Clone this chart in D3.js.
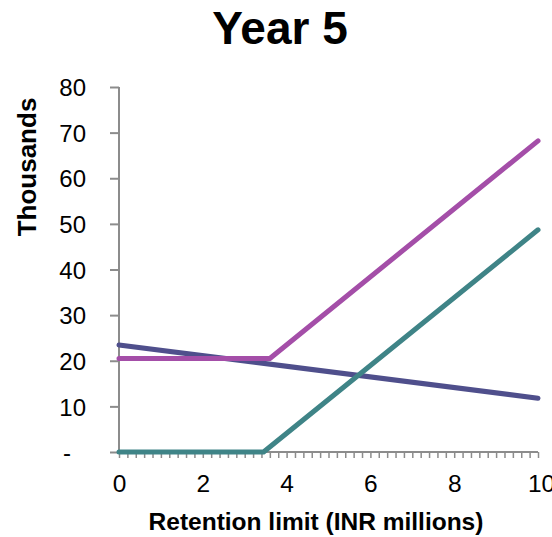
<!DOCTYPE html>
<html>
<head>
<meta charset="utf-8">
<script src="https://cdn.jsdelivr.net/npm/d3@7"></script>
<style>
  html, body { margin: 0; padding: 0; background: #fff; }
  svg { display: block; font-family: "Liberation Sans", Arial, sans-serif; }
</style>
</head>
<body>
<svg id="chart" width="552" height="537"></svg>
<script>
// Retention limit (INR millions) vs. cost (thousands), year 5
const chartTitle = "Year 5";
const xTitle = "Retention limit (INR millions)";
const yTitle = "Thousands";

const xTickLabels = [0, 2, 4, 6, 8, 10];
const yTickValues = [0, 10, 20, 30, 40, 50, 60, 70, 80];

// series points: [retention limit, thousands]
const navyX = [0, 10];
const navyY = [23.45, 11.8];
const purpleX = [0, 3.6, 10];
const purpleY = [20.5, 20.5, 68.2];
const tealX = [0, 3.45, 10];
const tealY = [0, 0, 48.7];

const series = [
  { xs: navyX, ys: navyY, color: "#4F4F8C" },
  { xs: purpleX, ys: purpleY, color: "#A44EA8" },
  { xs: tealX, ys: tealY, color: "#3F8487" }
];

const svg = d3.select("#chart");
const plotLeft = 119, plotRight = 538, plotTop = 87, plotBottom = 452;

const x = d3.scaleLinear().domain([0, 10]).range([plotLeft, plotRight]);
const y = d3.scaleLinear().domain([0, 80]).range([plotBottom, plotTop]);

const axisColor = "#8C8C8C";

// title
svg.append("text")
  .attr("x", 280).attr("y", 44)
  .attr("text-anchor", "middle")
  .style("font-size", "46px").style("font-weight", "bold")
  .text(chartTitle);

// y axis
const yAxis = svg.append("g")
  .attr("transform", `translate(${plotLeft},0)`)
  .call(d3.axisLeft(y).tickValues(yTickValues).tickSize(9).tickPadding(24)
    .tickFormat(d => d === 0 ? "-" : d3.format(",")(d)));
yAxis.select(".domain").attr("stroke", axisColor).attr("stroke-width", 2)
  .attr("d", `M0,${plotTop}V${plotBottom}`);
yAxis.selectAll(".tick line").attr("stroke", axisColor).attr("stroke-width", 2);
yAxis.selectAll(".tick text")
  .style("font-size", "24px").attr("fill", "#000")
  .attr("dy", "0.36em")
  .attr("dx", d => d === 0 ? -15 : 0);

// x axis: small ticks every 0.2
const minorTicks = d3.range(0, 51).map(i => i * 0.2);
const xAxis = svg.append("g")
  .attr("transform", `translate(0,${plotBottom})`)
  .call(d3.axisBottom(x).tickValues(minorTicks).tickSize(6).tickFormat(""));
xAxis.select(".domain").attr("stroke", axisColor).attr("stroke-width", 2)
  .attr("d", `M${plotLeft - 1},0H${plotRight}`);
xAxis.selectAll(".tick line").attr("stroke", axisColor).attr("stroke-width", 1.5);

// x tick labels
const xLabels = svg.append("g")
  .attr("transform", `translate(0,${plotBottom})`)
  .call(d3.axisBottom(x).tickValues(xTickLabels).tickSize(0).tickPadding(0)
    .tickFormat(d3.format("d")));
xLabels.select(".domain").remove();
xLabels.selectAll(".tick text")
  .style("font-size", "24.5px").attr("fill", "#000")
  .attr("dy", null).attr("y", 40)
  .attr("dx", d => d === 10 ? 3 : 0);

// series lines
const line = d3.line().x(d => x(d[0])).y(d => y(d[1]));
series.forEach(s => {
  const pts = s.xs.map((v, i) => [v, s.ys[i]]);
  svg.append("path")
    .datum(pts)
    .attr("d", line)
    .attr("fill", "none")
    .attr("stroke", s.color)
    .attr("stroke-width", 5)
    .attr("stroke-linecap", "round")
    .attr("stroke-linejoin", "round");
});

// axis titles
svg.append("text")
  .attr("transform", "translate(36,167) rotate(-90)")
  .attr("text-anchor", "middle")
  .style("font-size", "26px").style("font-weight", "bold")
  .text(yTitle);

svg.append("text")
  .attr("x", 316).attr("y", 530)
  .attr("text-anchor", "middle")
  .style("font-size", "24.5px").style("font-weight", "bold")
  .text(xTitle);
</script>
</body>
</html>
